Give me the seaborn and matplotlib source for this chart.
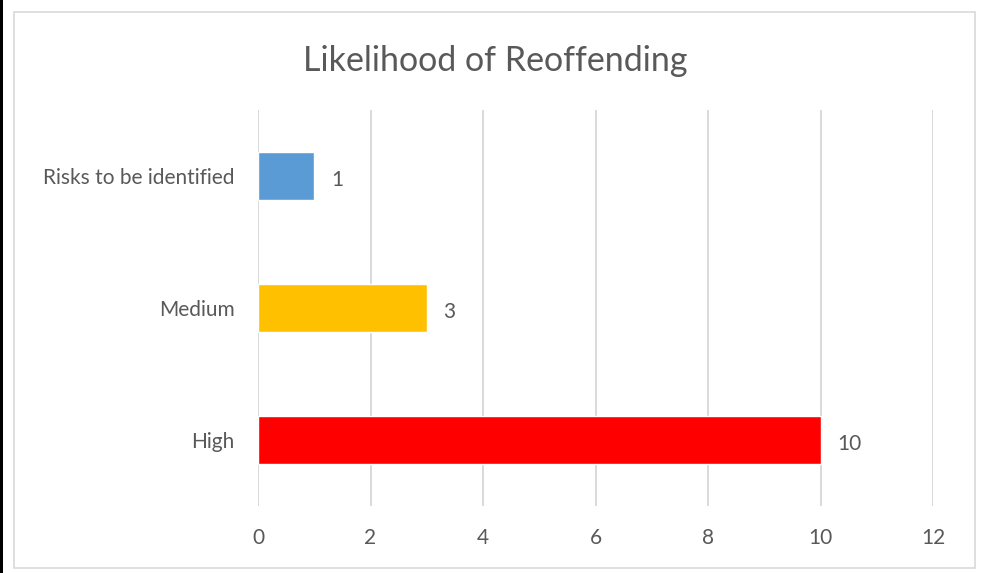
import pandas as pd
import seaborn as sns
import matplotlib.pyplot as plt
from matplotlib.patches import Rectangle

# chart data
categories = ['Risks to be identified', 'Medium', 'High']
counts = [1, 3, 10]
bar_colors = ['#5B9BD5', '#FFC000', '#FF0000']
x_ticks = [0, 2, 4, 6, 8, 10, 12]

df = pd.DataFrame({'Risk': categories, 'Count': counts})

sns.set_style('white')
plt.rcParams['font.family'] = ['Lato', 'DejaVu Sans']
text_col = '#595959'

fig = plt.figure(figsize=(10, 5.73), dpi=100)
ax = fig.add_axes([0.258, 0.117, 0.675, 0.691])

sns.barplot(data=df, x='Count', y='Risk', hue='Risk', palette=bar_colors,
            order=categories, width=0.36, legend=False, ax=ax, saturation=1)

# value labels next to bars
for i, v in enumerate(counts):
    ax.text(v + 0.3, i + 0.03, str(v), va='center', ha='left', fontsize=15, color=text_col)

ax.set_xlim(0, 12)
ax.set_ylim(2.5, -0.5)
ax.set_xticks(x_ticks)
ax.grid(axis='x', color='#d9d9d9', linewidth=1.4)
ax.set_axisbelow(True)
for s in ax.spines.values():
    s.set_visible(False)
ax.tick_params(axis='both', length=0, labelsize=15, colors=text_col)
ax.tick_params(axis='x', pad=16)
ax.tick_params(axis='y', pad=17)
ax.set_xlabel('')
ax.set_ylabel('')

fig.text(0.495, 0.894, 'Likelihood of Reoffending', ha='center', va='center',
         fontsize=24.5, color=text_col)

# chart border and left edge strip
fig.patches.append(Rectangle((0.014, 0.009), 0.961, 0.97, transform=fig.transFigure,
                             fill=False, edgecolor='#d9d9d9', linewidth=1.2))
fig.patches.append(Rectangle((0, 0), 0.003, 1, transform=fig.transFigure,
                             facecolor='black', edgecolor='none'))

plt.savefig('out.png')
